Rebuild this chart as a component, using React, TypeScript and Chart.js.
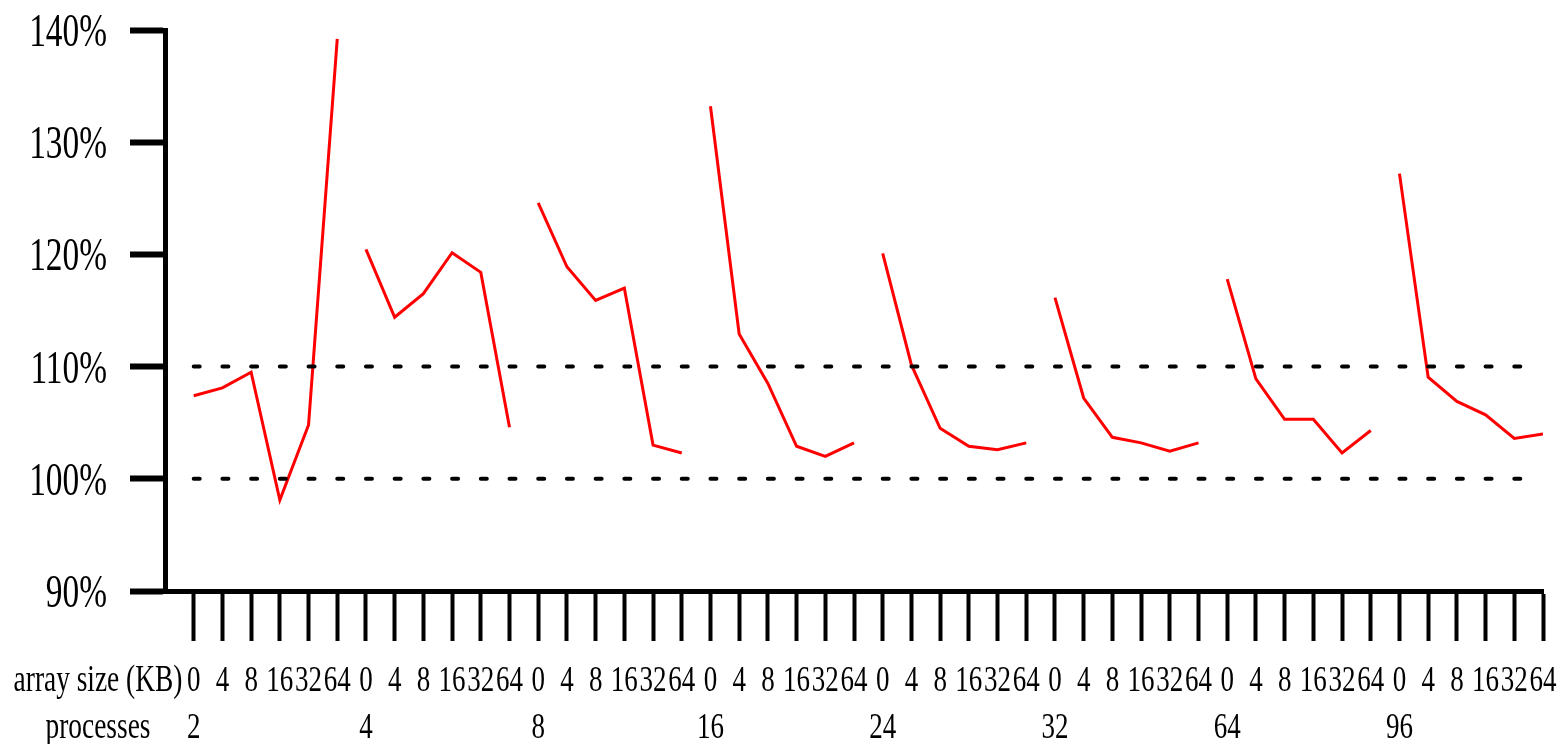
import React, { useEffect, useRef } from "react";
import { Chart, registerables } from "chart.js";

Chart.register(...registerables);

// ---- data ----
const processCounts = ["2", "4", "8", "16", "24", "32", "64", "96"];
const arraySizes = ["0", "4", "8", "16", "32", "64"];
const yTickValues = [90, 100, 110, 120, 130, 140];
const referenceLevels = [100, 110];

const p2 = [107.4, 108.1, 109.5, 98.1, 104.8, 139.2];
const p4 = [120.45, 114.4, 116.5, 120.15, 118.4, 104.6];
const p8 = [124.6, 118.9, 115.9, 117.0, 103.0, 102.3];
const p16 = [133.2, 112.9, 108.5, 102.9, 102.0, 103.2];
const p24 = [120.1, 110.15, 104.5, 102.9, 102.6, 103.2];
const p32 = [116.15, 107.2, 103.7, 103.2, 102.45, 103.2];
const p64 = [117.8, 108.9, 105.3, 105.3, 102.3, 104.3];
const p96 = [127.2, 109.05, 106.9, 105.7, 103.6, 104.0];
const seriesByProcess = [p2, p4, p8, p16, p24, p32, p64, p96];

const rowTitleSizes = "array size (KB)";
const rowTitleProcesses = "processes";

// ---- styles ----
const FONT = '"Liberation Serif", "Times New Roman", serif';

export default function App() {
  const canvasRef = useRef<HTMLCanvasElement | null>(null);

  useEffect(() => {
    if (!canvasRef.current) return;
    const nPerGroup = arraySizes.length;
    const lastIndex = processCounts.length * nPerGroup - 1;

    const refSets = referenceLevels.map((lvl) => ({
      label: `ref ${lvl}`,
      data: [
        { x: 0, y: lvl },
        { x: lastIndex, y: lvl },
      ],
      borderColor: "#000",
      borderWidth: 4,
      borderDash: [6, 1378 / 48 - 6],
      borderCapStyle: "round" as const,
      pointRadius: 0,
      order: 0,
    }));

    const lineSets = seriesByProcess.map((vals, g) => ({
      label: `${processCounts[g]} processes`,
      data: vals.map((v, j) => ({ x: g * nPerGroup + j, y: v })),
      borderColor: "#ff0000",
      borderWidth: 3,
      pointRadius: 0,
      tension: 0,
      order: 1,
    }));

    const textPlugin = {
      id: "scaledText",
      afterDraw(chart: any) {
        const { ctx, chartArea } = chart;
        const xs = chart.scales.x;
        const ys = chart.scales.y;
        const draw = (t: string, px: number, py: number, size: number, sx: number, align: CanvasTextAlign) => {
          ctx.save();
          ctx.fillStyle = "#000";
          ctx.font = `${size}px ${FONT}`;
          ctx.textAlign = align;
          ctx.textBaseline = "alphabetic";
          ctx.translate(px, py);
          ctx.scale(sx, 1);
          ctx.fillText(t, 0, 0);
          ctx.restore();
        };
        yTickValues.forEach((v) => {
          draw(`${v}%`, chartArea.left - 58, ys.getPixelForValue(v) + 16, 47, 0.71, "right");
        });
        const row1 = chartArea.bottom + 100;
        const row2 = chartArea.bottom + 147;
        for (let g = 0; g < processCounts.length; g++) {
          for (let j = 0; j < nPerGroup; j++) {
            const idx = g * nPerGroup + j;
            draw(arraySizes[j], xs.getPixelForValue(idx), row1, 36, 0.75, "center");
          }
          draw(processCounts[g], xs.getPixelForValue(g * nPerGroup), row2, 36, 0.75, "center");
        }
        draw(rowTitleSizes, 98, row1, 37, 0.74, "center");
        draw(rowTitleProcesses, 98, row2, 37, 0.74, "center");
      },
    };

    const chart = new Chart(canvasRef.current, {
      type: "line",
      data: { datasets: [...refSets, ...lineSets] as any },
      options: {
        animation: false,
        responsive: false,
        maintainAspectRatio: false,
        layout: { padding: { top: 30, right: 21, left: 0, bottom: 0 } },
        plugins: { legend: { display: false }, tooltip: { enabled: false } },
        scales: {
          x: {
            type: "linear",
            min: -1,
            max: lastIndex,
            afterFit: (s: any) => {
              s.height = 153;
            },
            ticks: { display: false, stepSize: 1, autoSkip: false, maxTicksLimit: 200 },
            grid: {
              drawOnChartArea: false,
              drawTicks: true,
              tickLength: 50,
              tickWidth: 4,
              tickColor: (c: any) => (c.tick && c.tick.value < 0 ? "rgba(0,0,0,0)" : "#000"),
            },
            border: { display: true, color: "#000", width: 5 },
          },
          y: {
            min: 90,
            max: 140,
            afterFit: (s: any) => {
              s.width = 165;
            },
            ticks: { display: false, stepSize: 10 },
            grid: {
              drawOnChartArea: false,
              drawTicks: true,
              tickLength: 35,
              tickWidth: 6,
              tickColor: "#000",
            },
            border: { display: true, color: "#000", width: 5 },
          },
        },
      },
      plugins: [textPlugin],
    });
    return () => chart.destroy();
  }, []);

  return (
    <div style={{ position: "fixed", left: 0, top: 0, width: 1564, height: 744, background: "#fff" }}>
      <canvas ref={canvasRef} width={1564} height={744} />
    </div>
  );
}
